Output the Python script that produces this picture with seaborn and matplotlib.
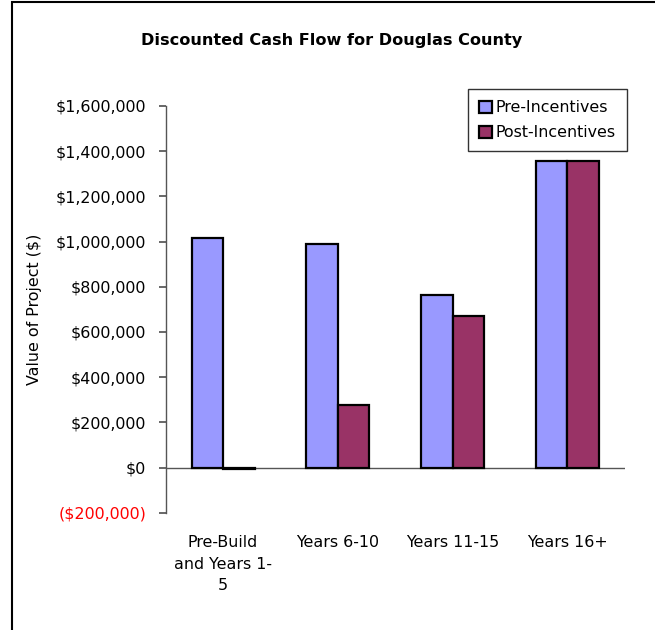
import matplotlib
matplotlib.use("Agg")
import matplotlib.pyplot as plt
import seaborn as sns
import pandas as pd
from matplotlib.patches import Rectangle
from matplotlib.ticker import FuncFormatter

categories = ["Pre-Build\nand Years 1-\n5", "Years 6-10", "Years 11-15", "Years 16+"]
pre_incentives = [1015000, 990000, 765000, 1355000]
post_incentives = [-5000, 278000, 670000, 1355000]
series = ["Pre-Incentives", "Post-Incentives"]
colors = ["#9999FF", "#993366"]

df = pd.DataFrame({
    "Category": categories * 2,
    "Value": pre_incentives + post_incentives,
    "Series": [series[0]] * 4 + [series[1]] * 4,
})

sns.set_theme(style="white")
plt.rcParams["font.family"] = ["DejaVu Sans"]
plt.rcParams["text.color"] = "black"
plt.rcParams["axes.labelcolor"] = "black"
plt.rcParams["xtick.color"] = "black"
plt.rcParams["ytick.color"] = "black"

fig = plt.figure(figsize=(6.55, 6.3), dpi=100)
ax = fig.add_axes([0.253, 0.186, 0.701, 0.646])

sns.barplot(data=df, x="Category", y="Value", hue="Series", palette=colors,
            width=0.55, edgecolor="black", linewidth=1.6, ax=ax, legend=True,
            saturation=1)

ax.set_ylim(-200000, 1600000)
ax.set_yticks(range(-200000, 1600001, 200000))

def fmt(v, pos):
    if v < 0:
        return "(${:,.0f})".format(-v)
    return "${:,.0f}".format(v)

ax.yaxis.set_major_formatter(FuncFormatter(fmt))
ax.tick_params(axis="y", labelsize=11.4, length=5, direction="out", left=True,
               color="#555555", labelcolor="black", pad=9)
ax.tick_params(axis="x", labelsize=11.4, length=0, pad=16, labelcolor="black")
for lab in ax.get_yticklabels():
    if lab.get_text().startswith("("):
        lab.set_color("red")
for lab in ax.get_xticklabels():
    lab.set_linespacing(1.55)

for s in ["top", "right", "bottom"]:
    ax.spines[s].set_visible(False)
ax.spines["left"].set_color("#555555")
ax.spines["left"].set_linewidth(1.0)
ax.axhline(0, color="#555555", lw=1.0, zorder=0.5)
ax.set_xlim(-0.5, 3.5)

ax.set_xlabel("")
ax.set_ylabel("Value of Project ($)", fontsize=11.4, labelpad=10, color="black")

leg = ax.get_legend()
handles = leg.legend_handles
leg.remove()
leg = fig.legend(handles=handles, labels=series, loc="upper right",
                 bbox_to_anchor=(627 / 655, 1 - 89 / 630), frameon=True,
                 fontsize=11.4, handlelength=0.8, handleheight=0.8,
                 handletextpad=0.25, borderpad=0.7, labelspacing=0.65,
                 borderaxespad=0, fancybox=False, edgecolor="black")
leg.get_frame().set_linewidth(1.0)
for t in leg.get_texts():
    t.set_color("black")

fig.text(332 / 655, 1 - 40 / 630, "Discounted Cash Flow for Douglas County",
         ha="center", va="center", fontsize=11.6, fontweight="bold", color="black")

fig.patches.append(Rectangle((12 / 655, -0.1), 1.2, 1 - 2.5 / 630 + 0.1,
                             transform=fig.transFigure, fill=False,
                             edgecolor="black", lw=1.5))

fig.savefig("out.png", dpi=100)
